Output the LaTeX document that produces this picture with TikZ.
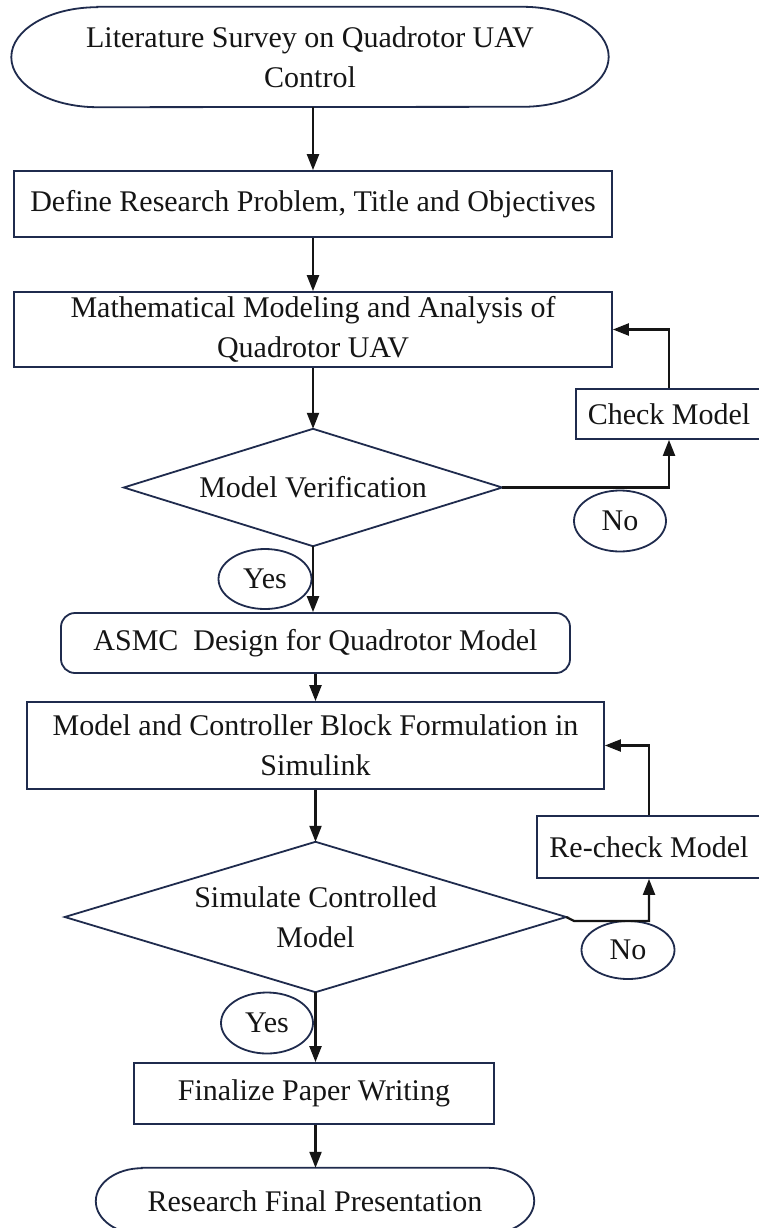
\documentclass[tikz,border=0pt]{standalone}
\usepackage{fontspec}
\setmainfont{Liberation Serif}
\usetikzlibrary{arrows.meta,shapes.geometric,calc}
\definecolor{edge}{HTML}{1F2B4D}
\definecolor{ink}{HTML}{151515}
\begin{document}
\begin{tikzpicture}[x=1pt,y=1pt,
  base/.style={inner sep=0pt,align=center,text=ink,font=\fontsize{30}{40}\selectfont},
  box/.style={base,draw=edge,line width=1.8pt},
  rbox/.style={box,rounded corners=14pt},
  holder/.style={base},
  lab/.style={base,draw=edge,line width=1.8pt,ellipse},
  outline/.style={draw=edge,line width=1.8pt},
  arr/.style={draw=ink,line width=2.2pt,-{Triangle[length=16pt,width=12pt]}}]
\useasboundingbox (0,0) rectangle (759,-1228);
\fill[white] (0,0) rectangle (759,-1228);

% terminals
\node[holder,minimum width=597pt,minimum height=100pt] (t1) at (310,-57) {Literature Survey on Quadrotor UAV\\Control};
\draw[outline] ([xshift=86pt]t1.north west) -- ([xshift=-86pt]t1.north east)
  arc[start angle=90,end angle=-90,x radius=86pt,y radius=50pt]
  -- ([xshift=86pt]t1.south west)
  arc[start angle=270,end angle=90,x radius=86pt,y radius=50pt] -- cycle;

\node[holder,minimum width=438pt,minimum height=66pt] (t2) at (315,-1201) {Research Final Presentation};
\draw[outline] ([xshift=46pt]t2.north west) -- ([xshift=-46pt]t2.north east)
  arc[start angle=90,end angle=-90,x radius=46pt,y radius=33pt]
  -- ([xshift=46pt]t2.south west)
  arc[start angle=270,end angle=90,x radius=46pt,y radius=33pt] -- cycle;

% boxes
\node[box,minimum width=598pt,minimum height=66pt] (b2) at (313,-204) {Define Research Problem, Title and Objectives};
\node[box,minimum width=598pt,minimum height=75pt] (b3) at (313,-329.5) {Mathematical Modeling and Analysis of\\Quadrotor UAV};
\node[box,minimum width=186pt,minimum height=50pt] (ck) at (669,-414) {Check Model};
\node[rbox,minimum width=509pt,minimum height=60pt] (asmc) at (315.5,-643) {ASMC\ \ Design for Quadrotor Model};
\node[box,minimum width=577pt,minimum height=87pt] (b5) at (315.5,-745.5) {Model and Controller Block Formulation in\\Simulink};
\node[box,minimum width=224pt,minimum height=62pt] (rc) at (649,-847) {Re-check Model};
\node[box,minimum width=360pt,minimum height=61pt] (fin) at (314,-1093.5) {Finalize Paper Writing};

% diamonds
\node[holder,minimum width=378pt,minimum height=117pt] (d1) at (313,-487.5) {Model Verification};
\draw[outline] (d1.north) -- (d1.east) -- (d1.south) -- (d1.west) -- cycle;
\node[holder,minimum width=501pt,minimum height=150pt] (d2) at (315.5,-917) {Simulate Controlled\\Model};
\draw[outline] (d2.north) -- (d2.east) -- (d2.south) -- (d2.west) -- cycle;

% labels
\node[lab,minimum width=92pt,minimum height=61pt] (no1) at (620,-521) {No};
\node[lab,minimum width=93pt,minimum height=60pt] (yes1) at (265,-579) {Yes};
\node[lab,minimum width=93pt,minimum height=58pt] (no2) at (628,-950) {No};
\node[lab,minimum width=92pt,minimum height=61pt] (yes2) at (267,-1023) {Yes};

% connectors
\draw[arr] (t1.south -| b2.north) -- (b2.north);
\draw[arr] (b2.south) -- (b3.north);
\draw[arr] (b3.south) -- (d1.north);
\draw[arr] (d1.east) -| (ck.south);
\draw[arr] (ck.north) |- (b3.east);
\draw[arr] (d1.south) -- (d1.south |- asmc.north);
\draw[arr] (asmc.south) -- (asmc.south |- b5.north);
\draw[arr] (b5.south) -- (d2.north);
\draw[arr] (d2.east) -- ++(8,-4) -| (rc.south);
\draw[arr] (rc.north) |- (b5.east);
\draw[arr] (d2.south) -- (d2.south |- fin.north);
\draw[arr] (fin.south -| d2.south) -- (d2.south |- t2.north);
\end{tikzpicture}
\end{document}
